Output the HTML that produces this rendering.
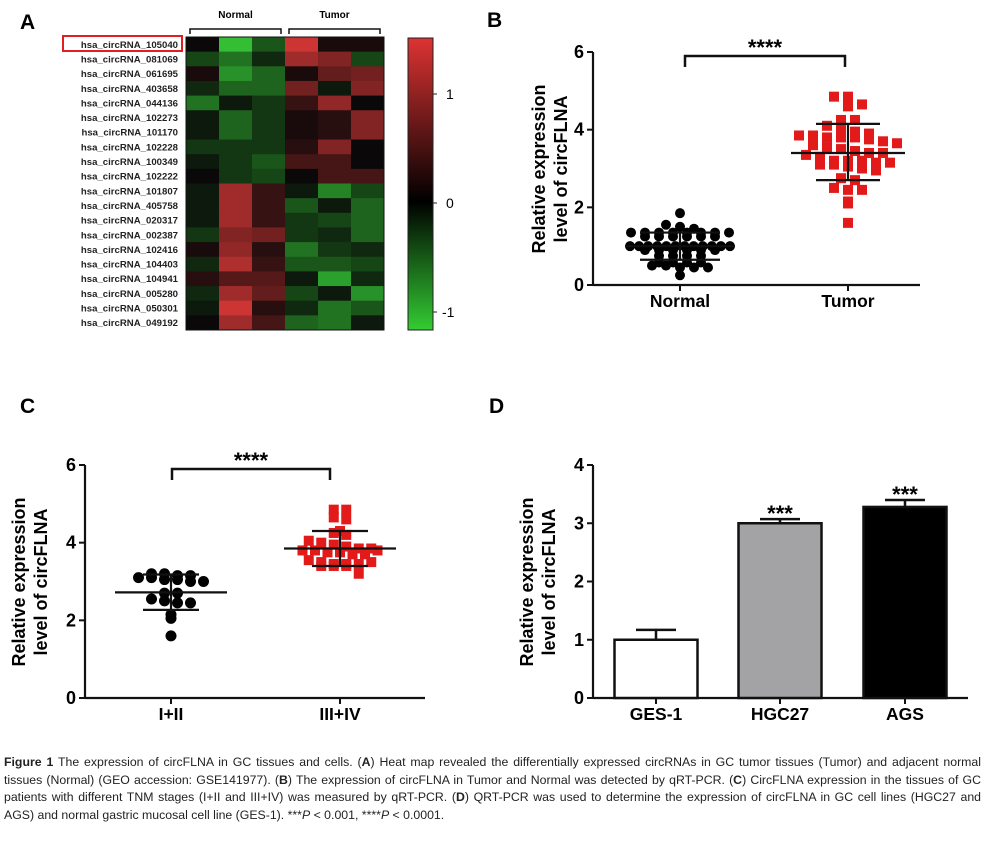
<!DOCTYPE html>
<html><head><meta charset="utf-8"><style>
body{margin:0;background:#fff;width:985px;height:846px;overflow:hidden;position:relative;font-family:"Liberation Sans",sans-serif}
svg{position:absolute;left:0;top:0}
#cap{position:absolute;left:4px;top:754px;width:977px;font-family:"Liberation Sans Narrow","Liberation Sans",sans-serif;font-size:12.3px;line-height:17.6px;color:#222;text-align:justify;text-align-last:left}
</style></head><body>
<svg id="fig" width="985" height="846"></svg>
<div id="cap"><b>Figure 1</b> The expression of circFLNA in GC tissues and cells. (<b>A</b>) Heat map revealed the differentially expressed circRNAs in GC tumor tissues (Tumor) and adjacent normal tissues (Normal) (GEO accession: GSE141977). (<b>B</b>) The expression of circFLNA in Tumor and Normal was detected by qRT-PCR. (<b>C</b>) CircFLNA expression in the tissues of GC patients with different TNM stages (I+II and III+IV) was measured by qRT-PCR. (<b>D</b>) QRT-PCR was used to determine the expression of circFLNA in GC cell lines (HGC27 and AGS) and normal gastric mucosal cell line (GES-1). ***<i>P</i> &lt; 0.001, ****<i>P</i> &lt; 0.0001.</div>
<script>
// ---- Heatmap data ----
const hmRows=["hsa_circRNA_105040","hsa_circRNA_081069","hsa_circRNA_061695","hsa_circRNA_403658","hsa_circRNA_044136","hsa_circRNA_102273","hsa_circRNA_101170","hsa_circRNA_102228","hsa_circRNA_100349","hsa_circRNA_102222","hsa_circRNA_101807","hsa_circRNA_405758","hsa_circRNA_020317","hsa_circRNA_002387","hsa_circRNA_102416","hsa_circRNA_104403","hsa_circRNA_104941","hsa_circRNA_005280","hsa_circRNA_050301","hsa_circRNA_049192"];
const hmGroups=["Normal","Tumor"];
const hmValues=[
[0,-1.2,-0.5,1.3,0.1,0.1],[-0.4,-0.7,-0.2,1.0,0.8,-0.4],[0.1,-0.9,-0.6,0.1,0.6,0.7],[-0.2,-0.6,-0.6,0.7,-0.1,0.8],
[-0.7,-0.1,-0.3,0.3,0.9,0],[-0.1,-0.6,-0.3,0.1,0.2,0.8],[-0.1,-0.6,-0.3,0.1,0.2,0.8],[-0.3,-0.3,-0.3,0.2,0.8,0],
[-0.1,-0.3,-0.5,0.4,0.4,0],[0,-0.3,-0.4,0,0.4,0.4],[-0.1,1.0,0.3,-0.1,-0.8,-0.4],[-0.1,1.0,0.3,-0.5,-0.1,-0.6],
[-0.1,1.0,0.3,-0.3,-0.4,-0.6],[-0.3,0.8,0.7,-0.3,-0.2,-0.6],[0.1,0.9,0.2,-0.7,-0.3,-0.2],[-0.2,1.1,0.3,-0.5,-0.5,-0.4],
[0.2,0.5,0.5,-0.1,-1.0,-0.2],[-0.2,1.0,0.6,-0.4,-0.1,-0.9],[-0.1,1.3,0.2,-0.2,-0.7,-0.5],[0,1.0,0.4,-0.6,-0.7,-0.1]];
const cbTicks=[1,0,-1];
// ---- Panel B ----
const bCats=["Normal","Tumor"];
const bNormal=[1.85,1.55,1.5,1.45,1.35,1.35,1.35,1.35,1.35,1.35,1.35,1.35,1.25,1.25,1.25,1.25,1.25,1.25,1.0,1.0,1.0,1.0,1.0,1.0,1.0,1.0,1.0,1.0,1.0,1.0,0.9,0.9,0.9,0.9,0.9,0.9,0.75,0.75,0.75,0.75,0.58,0.58,0.58,0.58,0.5,0.5,0.45,0.45,0.45,0.25];
const bNormalStats=[1.0,1.35,0.65];
const bTumor=[4.85,4.85,4.65,4.6,4.25,4.25,4.1,4.0,3.95,3.9,3.85,3.85,3.8,3.8,3.8,3.75,3.7,3.65,3.6,3.55,3.5,3.45,3.4,3.4,3.35,3.3,3.2,3.2,3.2,3.15,3.15,3.1,3.1,3.05,3.0,2.95,2.75,2.7,2.5,2.45,2.45,2.15,2.1,1.6];
const bTumorStats=[3.4,4.15,2.7];
const bTicks=[0,2,4,6];
// ---- Panel C ----
const cCats=["I+II","III+IV"];
const cLow=[3.2,3.2,3.15,3.15,3.1,3.1,3.05,3.05,3.0,3.0,2.7,2.7,2.55,2.5,2.45,2.45,2.15,2.05,1.6];
const cLowStats=[2.72,3.18,2.27];
const cHigh=[4.85,4.85,4.65,4.6,4.3,4.25,4.2,4.05,4.0,3.95,3.9,3.85,3.85,3.8,3.8,3.75,3.75,3.7,3.7,3.8,3.55,3.5,3.45,3.45,3.4,3.4,3.4,3.45,3.5,3.2];
const cHighStats=[3.85,4.3,3.4];
const cTicks=[0,2,4,6];
// ---- Panel D ----
const dCats=["GES-1","HGC27","AGS"];
const dValues=[1.0,3.0,3.28];
const dErrors=[0.17,0.07,0.12];
const dSig=["","***","***"];
const dFills=["#fff","#a3a3a6","#000"];
const dTicks=[0,1,2,3,4];

const NS="http://www.w3.org/2000/svg";
const svg=document.getElementById('fig');
function el(tag,attrs,parent,text){const e=document.createElementNS(NS,tag);for(const k in attrs)e.setAttribute(k,attrs[k]);if(text!==undefined)e.textContent=text;(parent||svg).appendChild(e);return e;}

[["A",20,29],["B",487,27],["C",20,413],["D",489,413]].forEach(p=>{
 const t=el('text',{x:p[1],y:p[2],'font-size':21,'font-weight':'bold'},svg,p[0]);
 
 
});

// ---- Heatmap ----
const hx0=186,hx1=384,hy0=37,hy1=330;
const cw=(hx1-hx0)/6,rh=(hy1-hy0)/hmRows.length;
function hmColor(v){const t=Math.max(-1,Math.min(1,v/1.3));
 if(t>=0){return `rgb(${Math.round(10+t*195)},${Math.round(8+t*45)},${Math.round(8+t*45)})`;}
 const s=-t;return `rgb(${Math.round(8+s*47)},${Math.round(10+s*195)},${Math.round(8+s*47)})`;}
const hg=el('g',{});


hmValues.forEach((row,i)=>{row.forEach((v,j)=>{
 const r=el('rect',{x:hx0+j*cw,y:hy0+i*rh,width:cw+0.5,height:rh+0.5,fill:hmColor(v)},hg);
 
 
});
 const t=el('text',{x:178,y:hy0+i*rh+rh/2+3.5,'font-size':9.6,'font-weight':'bold','text-anchor':'end',fill:'#222'},svg,hmRows[i]);
 
 
});
el('rect',{x:hx0,y:hy0,width:hx1-hx0,height:hy1-hy0,fill:'none',stroke:'#111','stroke-width':1});
const hb=el('rect',{x:63,y:36,width:119,height:15,fill:'none',stroke:'#e02020','stroke-width':2});


hmGroups.forEach((g,k)=>{const a=hx0+k*3*cw+4,b=hx0+(k+1)*3*cw-4;
 const p=el('path',{d:`M${a} 34V29H${b}V34`,fill:'none',stroke:'#111','stroke-width':1.5});
 
 
 const t=el('text',{x:(a+b)/2,y:18,'font-size':10,'font-weight':'bold','text-anchor':'middle'},svg,g);
 
 
});
const grad=el('linearGradient',{id:'cb',x1:0,y1:0,x2:0,y2:1},el('defs',{}));
el('stop',{offset:'0','stop-color':'#d33'},grad);el('stop',{offset:'0.56','stop-color':'#000'},grad);el('stop',{offset:'1','stop-color':'#3c3'},grad);
const cb=el('rect',{x:408,y:38,width:25,height:292,fill:'url(#cb)',stroke:'#222','stroke-width':1});


const cbY=v=>203-v*109;
cbTicks.forEach(v=>{el('line',{x1:433,x2:437,y1:cbY(v),y2:cbY(v),stroke:'#222'});
 const t=el('text',{x:v<0?442:446,y:cbY(v)+5,'font-size':14},svg,v<0?'-1':String(v));
 
 
});

function axes(o){
 const y=v=>o.y0-(v/o.max)*(o.y0-o.y1);
 el('line',{x1:o.ax,x2:o.ax,y1:o.y1,y2:o.y0,stroke:'#111','stroke-width':2.2});
 el('line',{x1:o.ax,x2:o.xr,y1:o.y0,y2:o.y0,stroke:'#111','stroke-width':2.2});
 o.ticks.forEach(v=>{el('line',{x1:o.ax-6,x2:o.ax,y1:y(v),y2:y(v),stroke:'#111','stroke-width':2});
  const t=el('text',{x:o.ax-9,y:y(v)+6,'font-size':18,'font-weight':'bold','text-anchor':'end'},svg,String(v));
  
  });
 o.cats.forEach((c,i)=>{el('line',{x1:o.cx[i],x2:o.cx[i],y1:o.y0,y2:o.y0+6,stroke:'#111','stroke-width':2});
  const t=el('text',{x:o.cx[i],y:o.y0+22,'font-size':17.5,'font-weight':'bold','text-anchor':'middle'},svg,c);
  
  });
 const tt=el('text',{transform:`translate(${o.tx},${o.ty}) rotate(-90)`,'font-size':18,'font-weight':'bold','text-anchor':'middle'},svg);
 
 
 el('tspan',{x:0,y:0},tt,'Relative expression');el('tspan',{x:0,y:22},tt,'level of circFLNA');
 return y;
}
function swarm(vals,cx,y,shape,color,size,maxW,binW,spMax){
 const bins={};vals.forEach(v=>{const k=Math.round(v/binW);(bins[k]=bins[k]||[]).push(v);});
 Object.values(bins).forEach(arr=>{const n=arr.length;
  const sp=n>1?Math.min(spMax,maxW/(n-1)):0;
  arr.forEach((v,i)=>{const dx=(i-(n-1)/2)*sp;let m;
   if(shape==='c')m=el('circle',{cx:cx+dx,cy:y(v),r:size/2,fill:color});
   else m=el('rect',{x:cx+dx-size/2,y:y(v)-size/2,width:size,height:size,fill:color});
   
   });});
}
function meanSD(st,cx,y,w1,w2){
 const g=el('g',{stroke:'#111','stroke-width':2.2});
 
 
 el('line',{x1:cx-w1,x2:cx+w1,y1:y(st[0]),y2:y(st[0])},g);
 el('line',{x1:cx-w2,x2:cx+w2,y1:y(st[1]),y2:y(st[1])},g);
 el('line',{x1:cx-w2,x2:cx+w2,y1:y(st[2]),y2:y(st[2])},g);
 el('line',{x1:cx,x2:cx,y1:y(st[1]),y2:y(st[2])},g);
}
function sigBar(a,b,yy,txt){
 const p=el('path',{d:`M${a} ${yy+11}V${yy}H${b}V${yy+11}`,fill:'none',stroke:'#111','stroke-width':2.5});
 
 
 const t=el('text',{x:(a+b)/2,y:yy-1,'font-size':22,'font-weight':'bold','text-anchor':'middle'},svg,txt);
 
 
}

// ---- Panel B ----
const yB=axes({ax:593,xr:920,y0:285,y1:52,max:6,ticks:bTicks,cats:bCats,cx:[680,848],tx:545,ty:169});
swarm(bNormal,680,yB,'c','#000',10,100,0.15,14);
swarm(bTumor,848,yB,'s','#e31a1a',10,106,0.25,14);
meanSD(bNormalStats,680,yB,55,40);
meanSD(bTumorStats,848,yB,57,32);
sigBar(685,845,56,'****');

// ---- Panel C ----
const yC=axes({ax:85,xr:425,y0:698,y1:465,max:6,ticks:cTicks,cats:cCats,cx:[171,340],tx:25,ty:582});
swarm(cLow,171,yC,'c','#000',11,100,0.25,13);
swarm(cHigh,340,yC,'s','#e31a1a',10,104,0.22,12.5);
meanSD(cLowStats,171,yC,56,28);
meanSD(cHighStats,340,yC,56,28);
sigBar(172,330,469,'****');

// ---- Panel D ----
const dCx=[656,780,905];
const yD=axes({ax:593,xr:968,y0:698,y1:465,max:4,ticks:dTicks,cats:dCats,cx:dCx,tx:533,ty:582});
dValues.forEach((v,i)=>{const w=83,x=dCx[i]-w/2;
 const eg=el('g',{stroke:'#111','stroke-width':2.5});
 
 
 el('line',{x1:dCx[i],x2:dCx[i],y1:yD(v),y2:yD(v+dErrors[i])},eg);
 el('line',{x1:dCx[i]-20,x2:dCx[i]+20,y1:yD(v+dErrors[i]),y2:yD(v+dErrors[i])},eg);
 const r=el('rect',{x:x,y:yD(v),width:w,height:yD(0)-yD(v),fill:dFills[i],stroke:'#111','stroke-width':2.5});
 
 
 if(dSig[i]){const t=el('text',{x:dCx[i],y:yD(v+dErrors[i])+2,'font-size':22,'font-weight':'bold','text-anchor':'middle'},svg,dSig[i]);
  
  }
});
</script>
</body></html>
